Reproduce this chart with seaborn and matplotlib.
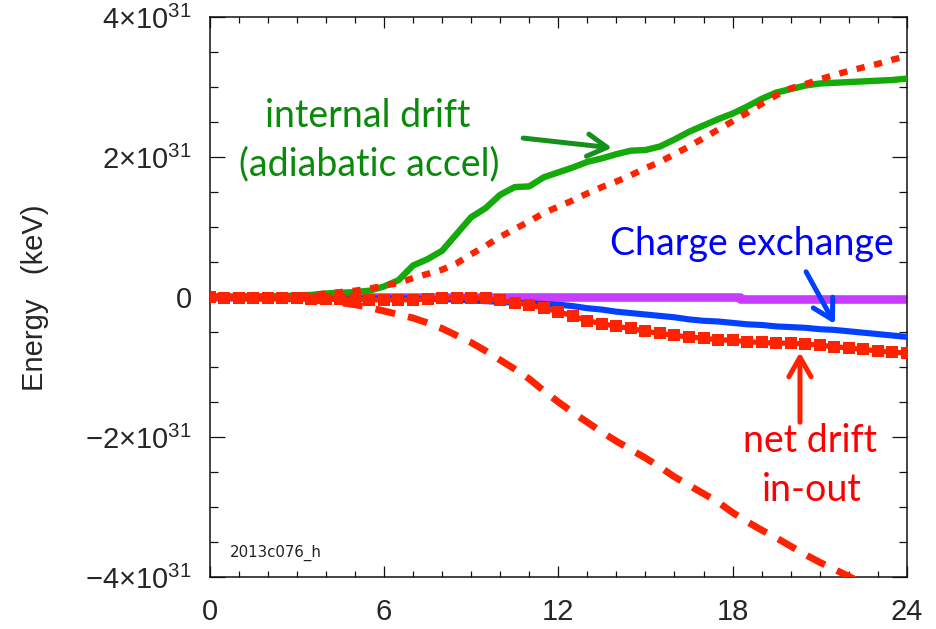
import matplotlib
matplotlib.use("Agg")
import matplotlib.pyplot as plt
from matplotlib.ticker import MultipleLocator
import numpy as np
import seaborn as sns

# Time since start of storm (hours), sampled every half hour
hours = [0.0, 0.5, 1.0, 1.5, 2.0, 2.5, 3.0, 3.5, 4.0, 4.5, 5.0, 5.5, 6.0, 6.5,
         7.0, 7.5, 8.0, 8.5, 9.0, 9.5, 10.0, 10.5, 11.0, 11.5, 12.0, 12.5,
         13.0, 13.5, 14.0, 14.5, 15.0, 15.5, 16.0, 16.5, 17.0, 17.5, 18.0,
         18.5, 19.0, 19.5, 20.0, 20.5, 21.0, 21.5, 22.0, 22.5, 23.0, 23.5, 24.0]

# Energy terms in units of 1e31 keV
internal_drift = [0.00, 0.00, 0.00, 0.01, 0.01, 0.01, 0.02, 0.03, 0.05, 0.06,
                  0.07, 0.09, 0.15, 0.24, 0.45, 0.54, 0.66, 0.90, 1.14, 1.27,
                  1.46, 1.57, 1.58, 1.71, 1.78, 1.85, 1.93, 1.98, 2.04, 2.09,
                  2.10, 2.15, 2.25, 2.36, 2.45, 2.54, 2.62, 2.72, 2.83, 2.92,
                  2.97, 3.02, 3.05, 3.06, 3.07, 3.08, 3.09, 3.10, 3.12]
drift_in = [0.00, 0.00, 0.00, 0.00, 0.01, 0.01, 0.02, 0.03, 0.05, 0.07,
            0.09, 0.12, 0.16, 0.20, 0.27, 0.33, 0.39, 0.48, 0.61, 0.73,
            0.86, 0.97, 1.08, 1.20, 1.29, 1.38, 1.48, 1.57, 1.65, 1.74,
            1.84, 1.93, 2.04, 2.15, 2.27, 2.39, 2.51, 2.63, 2.76, 2.88,
            2.98, 3.04, 3.11, 3.17, 3.23, 3.28, 3.33, 3.39, 3.44]
drift_out = [0.00, 0.00, 0.00, -0.01, -0.01, -0.02, -0.03, -0.04, -0.06, -0.08,
             -0.11, -0.15, -0.20, -0.25, -0.30, -0.37, -0.45, -0.55, -0.65, -0.77,
             -0.90, -1.03, -1.17, -1.34, -1.50, -1.65, -1.79, -1.93, -2.06, -2.18,
             -2.30, -2.43, -2.57, -2.69, -2.81, -2.93, -3.08, -3.21, -3.33, -3.44,
             -3.56, -3.68, -3.79, -3.89, -3.99, -4.10, -4.21, -4.31, -4.42]
net_drift = [0.00, -0.01, -0.01, -0.01, -0.02, -0.02, -0.02, -0.03, -0.03, -0.03,
             -0.03, -0.04, -0.04, -0.04, -0.04, -0.03, -0.02, -0.01, -0.01, -0.02,
             -0.05, -0.08, -0.11, -0.16, -0.21, -0.27, -0.34, -0.38, -0.42, -0.45,
             -0.49, -0.52, -0.55, -0.57, -0.59, -0.61, -0.62, -0.64, -0.65, -0.66,
             -0.66, -0.67, -0.69, -0.71, -0.73, -0.75, -0.77, -0.79, -0.80]
charge_exchange = [0.00, 0.00, -0.01, -0.01, -0.01, -0.01, -0.01, -0.01, -0.02, -0.02,
                   -0.02, -0.02, -0.02, -0.02, -0.02, -0.03, -0.03, -0.04, -0.05, -0.06,
                   -0.07, -0.08, -0.09, -0.10, -0.11, -0.13, -0.16, -0.18, -0.21, -0.23,
                   -0.25, -0.27, -0.29, -0.32, -0.34, -0.35, -0.37, -0.39, -0.40, -0.42,
                   -0.43, -0.44, -0.46, -0.47, -0.49, -0.51, -0.53, -0.55, -0.57]
other_loss = [-0.005] * 37 + [-0.035] * 12

y_ticks = [-4, -2, 0, 2, 4]
y_tick_labels = ["\u22124\u00d710$^{31}$", "\u22122\u00d710$^{31}$", "0",
                 "2\u00d710$^{31}$", "4\u00d710$^{31}$"]
x_ticks = [0, 6, 12, 18, 24]
x_tick_labels = ["0", "6", "12", "18", "24"]

SCALE = 1e31

sns.set_style("ticks")
plt.rcParams["font.family"] = ["Liberation Sans", "DejaVu Sans"]
plt.rcParams["mathtext.fontset"] = "custom"
plt.rcParams["mathtext.rm"] = "Liberation Sans"
plt.rcParams["mathtext.default"] = "regular"

fig = plt.figure(figsize=(9.36, 6.29), dpi=100)
ax = fig.add_axes([0.2240, 0.0827, 0.7449, 0.8903])

t = np.array(hours)

RED = "#ff2200"
sns.lineplot(x=t, y=np.array(other_loss) * SCALE, ax=ax, color="#c83cff",
             linewidth=6.2, drawstyle="steps-mid", zorder=2)
sns.lineplot(x=t, y=np.array(charge_exchange) * SCALE, ax=ax, color="#0040ff",
             linewidth=4.4, zorder=3)
sns.lineplot(x=t, y=np.array(internal_drift) * SCALE, ax=ax, color="#14aa0a",
             linewidth=4.6, zorder=4)
sns.lineplot(x=t, y=np.array(drift_in) * SCALE, ax=ax, color=RED,
             linewidth=4.6, linestyle=(0, (1.3, 1.5)), zorder=5)
sns.lineplot(x=t, y=np.array(drift_out) * SCALE, ax=ax, color=RED,
             linewidth=5.0, linestyle=(0, (2.9, 1.9)), zorder=5)
sns.lineplot(x=t, y=np.array(net_drift) * SCALE, ax=ax, color=RED,
             linewidth=3.8, marker="s", markersize=9.0, markeredgewidth=0,
             zorder=6)

ax.set_xlim(0, 24)
ax.set_ylim(-4 * SCALE, 4 * SCALE)
ax.set_xticks(x_ticks)
ax.set_xticklabels(x_tick_labels)
ax.set_yticks([v * SCALE for v in y_ticks])
ax.set_yticklabels(y_tick_labels)
ax.xaxis.set_minor_locator(MultipleLocator(1))
ax.yaxis.set_minor_locator(MultipleLocator(0.5 * SCALE))

for side in ["left", "right", "top", "bottom"]:
    ax.spines[side].set_visible(True)
    ax.spines[side].set_linewidth(1.1)
    ax.spines[side].set_color("#111111")

ax.tick_params(axis="both", which="both", direction="in", top=True, right=True,
               width=0.9, color="#111111")
ax.tick_params(axis="x", which="major", length=8, pad=15, labelsize=21)
ax.tick_params(axis="x", which="minor", length=4.3)
ax.tick_params(axis="y", which="major", length=10.5, pad=13, labelsize=21)
ax.tick_params(axis="y", which="minor", length=5.8)

ax.set_xlabel("")
ax.set_ylabel("Energy   (keV)", fontsize=21, va="center")
ax.yaxis.set_label_coords(-0.2506, 0.498)

# Annotations
ann_font = "Lato"
ax.text(5.43, 2.433 * SCALE, "internal drift", color="#0a8a0a", fontsize=27,
        family=ann_font, ha="center", va="baseline", zorder=8)
ax.text(5.48, 1.743 * SCALE, "(adiabatic accel)", color="#0a8a0a", fontsize=27,
        family=ann_font, ha="center", va="baseline", zorder=8)
ax.text(18.68, 0.60 * SCALE, "Charge exchange", color="#0000ff", fontsize=27,
        family=ann_font, ha="center", va="baseline", zorder=8)
ax.text(20.68, -2.21 * SCALE, "net drift", color="#ff0000", fontsize=27,
        family=ann_font, ha="center", va="baseline", zorder=8)
ax.text(20.73, -2.92 * SCALE, "in-out", color="#ff0000", fontsize=27,
        family=ann_font, ha="center", va="baseline", zorder=8)

arrow_kw = dict(arrowstyle="->,head_length=1.4,head_width=0.8", lw=3.6,
                shrinkA=0, shrinkB=0)
ax.annotate("", xy=(13.85, 2.13 * SCALE), xytext=(10.79, 2.27 * SCALE),
            arrowprops=dict(color="#15901a", **arrow_kw), zorder=8)
ax.annotate("", xy=(21.52, -0.386 * SCALE), xytext=(20.53, 0.36 * SCALE),
            arrowprops=dict(color="#0040ff", **arrow_kw), zorder=8)
ax.annotate("", xy=(20.32, -0.79 * SCALE), xytext=(20.32, -1.79 * SCALE),
            arrowprops=dict(color=RED, **arrow_kw), zorder=8)

ax.text(0.029, 0.043, "2013c076_h", transform=ax.transAxes, fontsize=10.8,
        color="#222222", family="DejaVu Sans", ha="left", va="center")

fig.savefig("out.png", dpi=100)
